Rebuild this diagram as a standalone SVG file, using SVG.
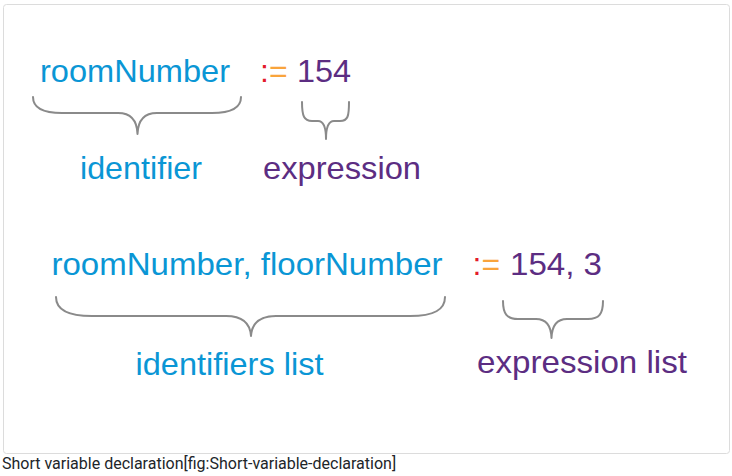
<svg xmlns="http://www.w3.org/2000/svg" width="732" height="476" viewBox="0 0 732 476">
<style>
  text { font-family: "Liberation Sans", Arial, sans-serif; font-size: 32px; }
  .blue { fill: #0a96d5; }
  .purple { fill: #5c2d82; }
  .red { fill: #e31b2b; }
  .orange { fill: #f9a43c; }
  .brace { fill: none; stroke: #8a8a8a; stroke-width: 2; stroke-linecap: round; stroke-linejoin: round; }
  .caption { font-family: Roboto, "Liberation Sans", sans-serif; font-size: 16px; fill: #212529; }
</style>
<rect x="3.5" y="4.5" width="726" height="449" rx="3" fill="#ffffff" stroke="#dcdcdc" stroke-width="1"/>

<g id="roomNumber-top">
  <text class="blue" x="40" y="82" textLength="190" lengthAdjust="spacingAndGlyphs">roomNumber</text>
</g>
<g id="assign-top">
  <text x="260" y="82"><tspan class="red">:</tspan><tspan class="orange">=</tspan></text>
  <text class="purple" x="297" y="82" textLength="54" lengthAdjust="spacingAndGlyphs">154</text>
</g>
<g id="identifier">
  <text class="blue" x="80" y="178.5" textLength="122" lengthAdjust="spacingAndGlyphs">identifier</text>
</g>
<g id="expression">
  <text class="purple" x="263" y="179" textLength="158" lengthAdjust="spacingAndGlyphs">expression</text>
</g>

<g id="roomNumber-floorNumber">
  <text class="blue" x="51.5" y="275" textLength="391" lengthAdjust="spacingAndGlyphs">roomNumber, floorNumber</text>
</g>
<g id="assign-bottom">
  <text x="472.5" y="275"><tspan class="red">:</tspan><tspan class="orange">=</tspan></text>
  <text class="purple" x="510" y="275" textLength="92" lengthAdjust="spacingAndGlyphs">154, 3</text>
</g>
<g id="identifiers-list">
  <text class="blue" x="135.5" y="375" textLength="188" lengthAdjust="spacingAndGlyphs">identifiers list</text>
</g>
<g id="expression-list">
  <text class="purple" x="477" y="373" textLength="210" lengthAdjust="spacingAndGlyphs">expression list</text>
</g>

<g id="connectors">
  <path class="brace" d="M33,97 C33,108 43,113 62,113 L118,113 C130,113 137,119 137.5,134 C138,119 145,113 157,113 L212,113 C231,113 241,108 241,97"/>
  <path class="brace" d="M302,102 C302,116 304,121 312,121 L318,121 C323,121 326,126 326,139 C326,126 329,121 334,121 L340,121 C348,121 349,116 349,102"/>
  <path class="brace" d="M56,297 C56,310 68,316 92,316 L226,316 C240,316 250,321 251,336 C252,321 262,316 276,316 L410,316 C434,316 445,310 445,297"/>
  <path class="brace" d="M503,301 C503,314 507,319 518,319 L536,319 C545,319 551,324 551.5,338 C552,324 558,319 567,319 L588,319 C599,319 603,314 603,301"/>
</g>

<text class="caption" x="2" y="469">Short variable declaration[fig:Short-variable-declaration]</text>
</svg>
